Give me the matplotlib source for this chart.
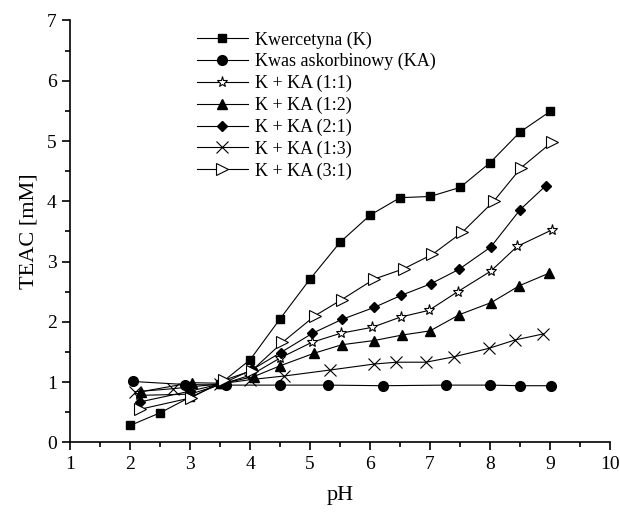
import matplotlib.pyplot as plt
import numpy as np

plt.rcParams['font.family'] = ['Liberation Serif', 'DejaVu Serif']

# Kwercetyna (K)
ph_k = [2.0, 2.5, 3.0, 3.5, 4.0, 4.5, 5.0, 5.5, 6.0, 6.5, 7.0, 7.5, 8.0, 8.5, 9.0]
teac_k = [0.28, 0.49, 0.75, 0.97, 1.37, 2.05, 2.71, 3.32, 3.77, 4.06, 4.08, 4.23, 4.64, 5.15, 5.49]

# Kwas askorbinowy (KA)
ph_ka = [2.05, 2.92, 3.6, 4.5, 5.3, 6.22, 7.27, 8.0, 8.5, 9.02]
teac_ka = [1.01, 0.96, 0.95, 0.95, 0.95, 0.94, 0.95, 0.95, 0.94, 0.94]

# K + KA (1:1)
ph_11 = [2.15, 3.0, 3.55, 4.02, 4.5, 5.03, 5.51, 6.04, 6.51, 6.98, 7.46, 8.01, 8.45, 9.04]
teac_11 = [0.78, 0.8, 0.97, 1.12, 1.40, 1.66, 1.81, 1.91, 2.08, 2.19, 2.50, 2.84, 3.25, 3.53]

# K + KA (1:2)
ph_12 = [2.18, 3.03, 3.55, 4.06, 4.5, 5.07, 5.53, 6.07, 6.53, 7.0, 7.49, 8.02, 8.49, 8.99]
teac_12 = [0.84, 0.99, 0.98, 1.09, 1.27, 1.48, 1.62, 1.69, 1.78, 1.85, 2.12, 2.32, 2.60, 2.81]

# K + KA (2:1)
ph_21 = [2.16, 3.0, 3.55, 4.04, 4.51, 5.04, 5.53, 6.07, 6.52, 7.01, 7.48, 8.01, 8.5, 8.93]
teac_21 = [0.67, 0.85, 0.98, 1.21, 1.49, 1.81, 2.04, 2.24, 2.44, 2.63, 2.87, 3.24, 3.86, 4.26]

# K + KA (1:3)
ph_13 = [2.08, 2.71, 3.5, 4.0, 4.56, 5.33, 6.07, 6.44, 6.93, 7.4, 7.98, 8.42, 8.89]
teac_13 = [0.84, 0.89, 0.97, 1.04, 1.10, 1.20, 1.30, 1.33, 1.33, 1.42, 1.56, 1.70, 1.80]

# K + KA (3:1)
ph_31 = [2.17, 3.02, 3.56, 4.03, 4.54, 5.08, 5.53, 6.07, 6.56, 7.04, 7.54, 8.06, 8.52, 9.03]
teac_31 = [0.55, 0.74, 1.03, 1.19, 1.66, 2.10, 2.37, 2.71, 2.88, 3.12, 3.49, 4.00, 4.56, 4.98]

fig = plt.figure(figsize=(6.2, 5.12), dpi=100)
ax = fig.add_axes([0.113, 0.136, 0.871, 0.824])

kw = dict(color='black', linewidth=0.8, markersize=6)
ax.plot(ph_k, teac_k, marker='s', label='Kwercetyna (K)', **kw)
ax.plot(ph_ka, teac_ka, marker='o', markersize=7, color='black', linewidth=0.8,
        label='Kwas askorbinowy (KA)')
ax.plot(ph_11, teac_11, marker='*', markersize=8, markerfacecolor='white',
        markeredgewidth=0.8, color='black', linewidth=0.8, label='K + KA (1:1)')
ax.plot(ph_12, teac_12, marker='^', markersize=7, color='black', linewidth=0.8,
        label='K + KA (1:2)')
ax.plot(ph_21, teac_21, marker='D', markersize=5.5, color='black', linewidth=0.8,
        label='K + KA (2:1)')
ax.plot(ph_13, teac_13, marker='x', markersize=8, markeredgewidth=0.8,
        color='black', linewidth=0.8, label='K + KA (1:3)')
ax.plot(ph_31, teac_31, marker='>', markersize=8, markerfacecolor='white',
        markeredgewidth=0.8, color='black', linewidth=0.8, label='K + KA (3:1)')

ax.set_xlim(1, 10)
ax.set_ylim(0, 7)
ax.set_xticks(np.arange(1, 11, 1))
ax.set_xticks(np.arange(1.5, 10, 1), minor=True)
ax.set_yticks(np.arange(0, 8, 1))
ax.set_yticks(np.arange(0.5, 7, 1), minor=True)
ax.spines['top'].set_visible(False)
ax.spines['right'].set_visible(False)
ax.spines['left'].set_linewidth(1.2)
ax.spines['bottom'].set_linewidth(1.2)
ax.tick_params(which='major', direction='out', length=6, width=1.2, labelsize=14)
ax.tick_params(which='minor', direction='out', length=3.5, width=1.2)
ax.set_xlabel('pH', fontsize=16, labelpad=10)
ax.set_ylabel('TEAC [mM]', fontsize=16, labelpad=6)

ax.legend(loc='upper left', bbox_to_anchor=(0.215, 1.0), frameon=False,
          fontsize=13, handlelength=2.8, labelspacing=0.25, borderaxespad=0.2,
          handletextpad=0.4)

fig.savefig('out.png', dpi=100)
